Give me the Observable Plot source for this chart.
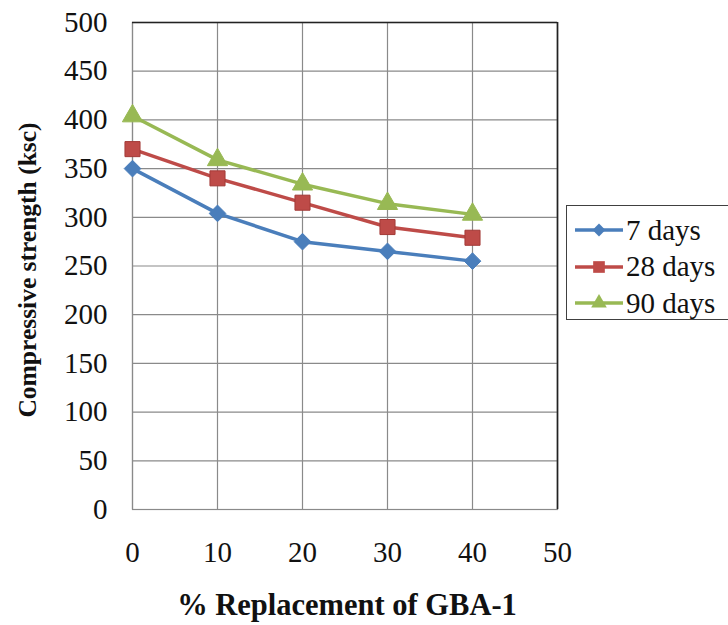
<!DOCTYPE html>
<html>
<head>
<meta charset="utf-8">
<script src="https://cdn.jsdelivr.net/npm/d3@7"></script>
<script src="https://cdn.jsdelivr.net/npm/@observablehq/plot@0.6"></script>
<style>
  html, body { margin: 0; padding: 0; background: #fff; }
  #wrap { position: relative; width: 728px; height: 625px; overflow: hidden; }
  #legend {
    position: absolute; left: 566px; top: 205px; width: 175px; height: 115px;
    border: 1.5px solid #404040; box-sizing: border-box; background: #fff;
    font-family: "Liberation Serif", "Times New Roman", serif; font-size: 29px; color: #111;
  }
  .row { position: absolute; left: 6px; height: 36px; display: flex; align-items: center; white-space: nowrap; }
  .row svg { margin-right: 1px; }
</style>
</head>
<body>
<div id="wrap"><div id="legend"></div></div>
<script>
// Replacement level of GBA-1 (%)
const replacement = [0, 10, 20, 30, 40];
// Compressive strength (ksc) by curing age
const days7 = [350, 304, 275, 265, 255];
const days28 = [370, 340, 315, 290, 279];
const days90 = [404, 359, 334, 314, 303];
const seriesNames = ["7 days", "28 days", "90 days"];
const xTicks = [0, 10, 20, 30, 40, 50];
const yTicks = [0, 50, 100, 150, 200, 250, 300, 350, 400, 450, 500];

const colors = {"7 days": "#4a7ebb", "28 days": "#be4b48", "90 days": "#98b954"};
const symbols = {"7 days": "diamond2", "28 days": "square", "90 days": "triangle"};
const sizes = {"7 days": 7.5, "28 days": 8.5, "90 days": 7.5};

const rows = [];
[days7, days28, days90].forEach((vals, i) => {
  vals.forEach((v, j) => rows.push({series: seriesNames[i], x: replacement[j], y: v}));
});

const chart = Plot.plot({
  width: 728,
  height: 625,
  marginLeft: 132,
  marginRight: 171,
  marginTop: 22,
  marginBottom: 116,
  style: {fontFamily: "'Liberation Serif', 'Times New Roman', serif", fontSize: "29px", color: "#000", background: "#fff"},
  x: {domain: [0, 50]},
  y: {domain: [0, 500]},
  marks: [
    Plot.gridX(xTicks, {stroke: "#8a8a8a", strokeOpacity: 1, strokeWidth: 1.2}),
    Plot.gridY(yTicks, {stroke: "#8a8a8a", strokeOpacity: 1, strokeWidth: 1.2}),
    Plot.frame({stroke: "#8a8a8a", strokeWidth: 1.2}),
    Plot.ruleY([500], {stroke: "#222", strokeWidth: 1.6}),
    Plot.ruleX([50], {stroke: "#222", strokeWidth: 1.6}),
    Plot.axisY(yTicks, {tickSize: 0, tickPadding: 25, label: null, fill: "#111"}),
    Plot.axisX(xTicks, {tickSize: 0, tickPadding: 32, label: null, fill: "#111"}),
    ...seriesNames.map(s => Plot.line(rows.filter(d => d.series === s), {
      x: "x", y: "y", stroke: colors[s], strokeWidth: 3.5
    })),
    ...seriesNames.map(s => Plot.dot(rows.filter(d => d.series === s), {
      x: "x", y: "y", symbol: symbols[s], r: sizes[s], fill: colors[s],
      stroke: s === "28 days" ? "#a33a37" : colors[s], strokeWidth: 1
    })),
    Plot.text(["Compressive strength (ksc)"], {
      frameAnchor: "left", dx: -105, dy: 4, rotate: -90, text: d => d,
      textAnchor: "middle", lineAnchor: "middle",
      fontWeight: "bold", fontSize: 25.5, fill: "#111"
    }),
    Plot.text(["% Replacement of GBA-1"], {
      frameAnchor: "bottom", dy: 96, dx: 2, text: d => d,
      textAnchor: "middle", lineAnchor: "middle",
      fontWeight: "bold", fontSize: 30.5, fill: "#111"
    })
  ]
});
document.getElementById("wrap").prepend(chart);

// Legend
const legend = d3.select("#legend");
const symbolTypes = {"7 days": d3.symbolDiamond2, "28 days": d3.symbolSquare, "90 days": d3.symbolTriangle};
seriesNames.forEach((s, i) => {
  const row = legend.append("div").attr("class", "row").style("top", `${6 + i * 36.5}px`);
  const svg = row.append("svg").attr("width", 52).attr("height", 24);
  svg.append("line").attr("x1", 2).attr("x2", 50).attr("y1", 12).attr("y2", 12)
    .attr("stroke", colors[s]).attr("stroke-width", 3.5);
  svg.append("path")
    .attr("d", d3.symbol(symbolTypes[s], Math.PI * sizes[s] * sizes[s] * 0.6)())
    .attr("transform", "translate(26,12)")
    .attr("fill", colors[s]);
  row.append("span").text(s);
});
</script>
</body>
</html>
